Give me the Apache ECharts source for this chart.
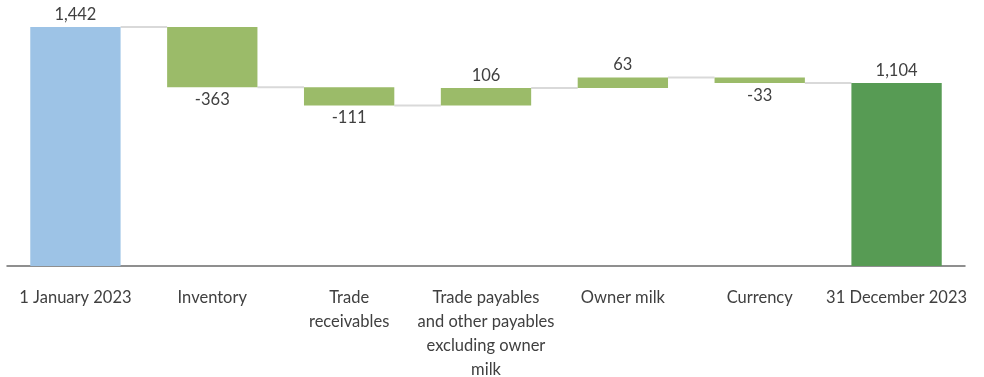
<!DOCTYPE html>
<html>
<head>
<meta charset="utf-8">
<script src="https://cdn.jsdelivr.net/npm/echarts@6/dist/echarts.min.js"></script>
<style>
  html, body { margin: 0; padding: 0; background: #fff; }
  #chart { width: 984px; height: 377px; }
</style>
</head>
<body>
<div id="chart"></div>
<script>
// waterfall data
const categories = ['1 January 2023', 'Inventory', 'Trade\nreceivables',
  'Trade payables\nand other payables\nexcluding owner\nmilk', 'Owner milk', 'Currency', '31 December 2023'];
const changes = [1442, -363, -111, 106, 63, -33, 1104];
const isTotal = [true, false, false, false, false, false, true];

const barColors = { start: '#9dc3e6', step: '#9bbb69', end: '#579b54' };

// build invisible base + visible part
const base = [];
const visible = [];
const levels = [];
let running = 0;
changes.forEach((v, i) => {
  if (isTotal[i]) {
    base.push(0);
    visible.push(v);
    running = v;
  } else {
    const next = running + v;
    base.push(Math.min(running, next));
    visible.push(Math.abs(v));
    running = next;
  }
  levels.push(running);
});

const fmt = v => v.toLocaleString('en-US');

const chart = echarts.init(document.getElementById('chart'));
chart.setOption({
  animation: false,
  textStyle: { fontFamily: 'Lato', color: '#404040' },
  grid: { left: 7, right: 19, top: 27, bottom: 111, outerBoundsMode: 'none', containLabel: false },
  xAxis: {
    type: 'category',
    data: categories,
    axisTick: { show: false },
    axisLine: { lineStyle: { color: '#6b6b6b', width: 1.5 } },
    axisLabel: { color: '#404040', fontSize: 16.5, lineHeight: 24, margin: 20, interval: 0 }
  },
  yAxis: {
    type: 'value', min: 0, max: 1442,
    show: false, splitLine: { show: false }
  },
  series: [
    {
      type: 'bar', stack: 'w', barWidth: '66%',
      itemStyle: { color: 'transparent' },
      data: base, silent: true
    },
    {
      type: 'bar', stack: 'w', barWidth: '66%',
      data: visible.map((v, i) => ({
        value: v,
        itemStyle: { color: i === 0 ? barColors.start : (i === changes.length - 1 ? barColors.end : barColors.step) },
        label: {
          show: true,
          position: changes[i] < 0 ? 'bottom' : 'top',
          distance: 4,
          formatter: () => fmt(changes[i]),
          fontSize: 16.5, color: '#404040', fontFamily: 'Lato'
        }
      }))
    },
    {
      type: 'custom',
      silent: true,
      data: levels.slice(0, -1).map((l, i) => [i, l]),
      renderItem: (params, api) => {
        const i = api.value(0);
        const p1 = api.coord([i, api.value(1)]);
        const p2 = api.coord([i + 1, api.value(1)]);
        const half = api.size([1, 0])[0] * 0.66 / 2;
        return {
          type: 'line',
          shape: { x1: p1[0] + half, y1: p1[1], x2: p2[0] - half, y2: p2[1] },
          style: { stroke: '#d9d9d9', lineWidth: 2 }
        };
      },
      z: 1
    }
  ]
});
</script>
</body>
</html>
